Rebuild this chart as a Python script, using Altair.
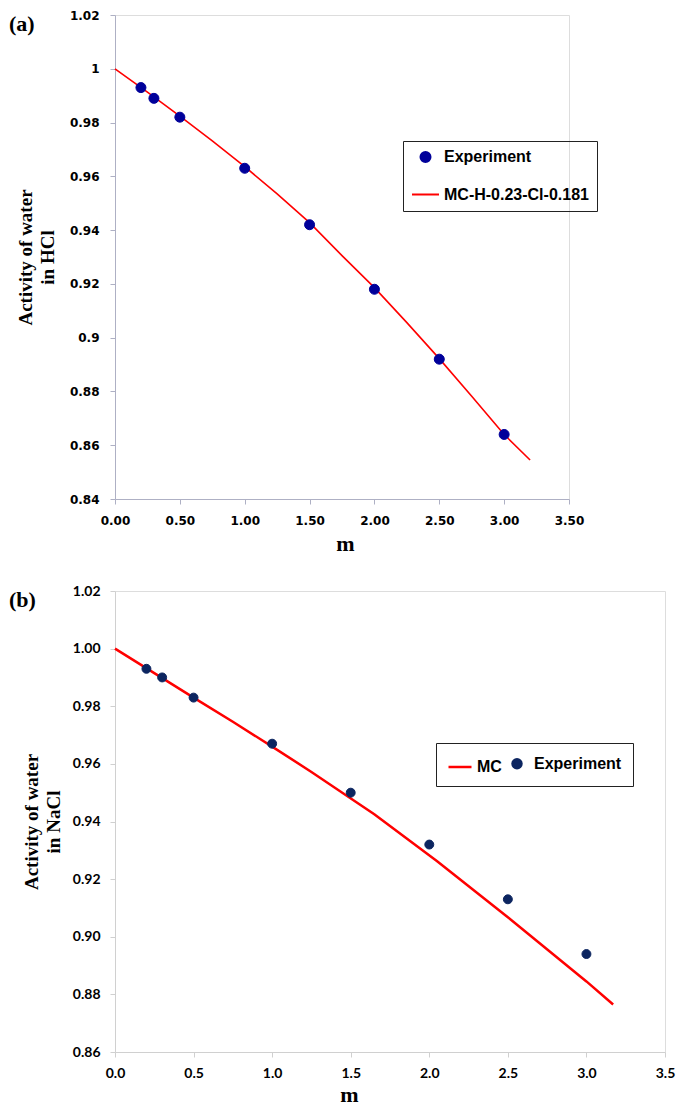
import altair as alt
import pandas as pd

# ---------- Panel (a): HCl ----------
m_exp_a = [0.2, 0.3, 0.5, 1.0, 1.5, 2.0, 2.5, 3.0]
aw_exp_a = [0.993, 0.989, 0.982, 0.963, 0.942, 0.918, 0.892, 0.864]
m_mc_a = [0.0, 0.25, 0.5, 0.75, 1.0, 1.25, 1.5, 1.75, 2.0, 2.25, 2.5, 2.75, 3.0, 3.2]
aw_mc_a = [1.0, 0.9913, 0.9824, 0.9732, 0.9636, 0.9535, 0.9428, 0.9305, 0.9186, 0.9056, 0.8922, 0.8782, 0.8640, 0.8545]
series_a = ["Experiment", "MC-H-0.23-Cl-0.181"]
xticks_a = [0.0, 0.5, 1.0, 1.5, 2.0, 2.5, 3.0, 3.5]
yticks_a = [0.84, 0.86, 0.88, 0.90, 0.92, 0.94, 0.96, 0.98, 1.00, 1.02]

# ---------- Panel (b): NaCl ----------
m_exp_b = [0.2, 0.3, 0.5, 1.0, 1.5, 2.0, 2.5, 3.0]
aw_exp_b = [0.993, 0.990, 0.983, 0.967, 0.950, 0.932, 0.913, 0.894]
m_mc_b = [0.0, 0.25, 0.5, 0.75, 1.0, 1.25, 1.65, 2.05, 2.5, 3.0, 3.17]
aw_mc_b = [1.0, 0.9915, 0.9830, 0.9746, 0.9660, 0.9572, 0.9425, 0.9262, 0.9068, 0.8845, 0.8765]
series_b = ["MC", "Experiment"]
xticks_b = [0.0, 0.5, 1.0, 1.5, 2.0, 2.5, 3.0, 3.5]
yticks_b = [0.86, 0.88, 0.90, 0.92, 0.94, 0.96, 0.98, 1.00, 1.02]

BLUE_A = "#00009a"
NAVY_B = "#0c2560"
RED = "#ff0000"

exp_a = pd.DataFrame({"m": m_exp_a, "aw": aw_exp_a, "series": "Experiment"})
mc_a = pd.DataFrame({"m": m_mc_a, "aw": aw_mc_a})
exp_b = pd.DataFrame({"m": m_exp_b, "aw": aw_exp_b, "series": "Experiment"})
mc_b = pd.DataFrame({"m": m_mc_b, "aw": aw_mc_b})


def panel(exp, mc, series, colors, sizes, xticks, yticks, xfmt, yfmt, ytitle,
          tick_font, tick_size, axis_color, label_pad_x, label_pad_y,
          title_x_x, title_y_y, ylab_title_x, width, height, legend,
          line_width, tag, tag_y):
    x = alt.X("m:Q",
              scale=alt.Scale(domain=[xticks[0], xticks[-1]], nice=False, zero=False),
              axis=alt.Axis(values=xticks, format=xfmt, title="m", grid=False,
                            labelFont=tick_font, labelFontSize=tick_size,
                            labelFontWeight="bold", labelColor="black",
                            labelPadding=label_pad_x, tickSize=5,
                            tickColor=axis_color, domainColor=axis_color,
                            titleFont="Liberation Serif", titleFontSize=22,
                            titleFontWeight="bold", titleColor="black",
                            titleX=title_x_x, titleY=title_y_y,
                            labelFlush=False))
    y = alt.Y("aw:Q",
              scale=alt.Scale(domain=[yticks[0], yticks[-1]], nice=False, zero=False),
              axis=alt.Axis(values=yticks, format=yfmt, title=ytitle, grid=False,
                            labelFont=tick_font, labelFontSize=tick_size,
                            labelFontWeight="bold", labelColor="black",
                            labelPadding=label_pad_y, tickSize=5,
                            tickColor=axis_color, domainColor=axis_color,
                            titleFont="Liberation Serif", titleFontSize=19,
                            titleFontWeight="bold", titleColor="black",
                            titleLineHeight=22, titleX=ylab_title_x,
                            labelFlush=False))
    line = alt.Chart(mc).mark_line(color=RED, strokeWidth=line_width).encode(x=x, y=y)
    dom = alt.Scale(domain=series, range=colors)
    pts = alt.Chart(exp).mark_point(filled=True, opacity=1, strokeWidth=1).encode(
        x=x, y=y,
        fill=alt.Fill("series:N", scale=dom, legend=legend),
        stroke=alt.Stroke("series:N", scale=dom, legend=legend),
        shape=alt.Shape("series:N",
                        scale=alt.Scale(domain=series,
                                        range=["circle" if s == "Experiment" else "stroke" for s in series]),
                        legend=legend),
        size=alt.Size("series:N",
                      scale=alt.Scale(type="ordinal", domain=series, range=sizes),
                      legend=legend),
    )
    lab = alt.Chart(pd.DataFrame({"t": [tag]})).mark_text(
        font="Liberation Serif", fontSize=22, fontWeight="bold", color="black",
        align="left", baseline="top").encode(
        x=alt.value(-106), y=alt.value(tag_y), text="t:N")
    return alt.layer(line, pts, lab).properties(width=width, height=height)


legend_a = alt.Legend(title=None, orient="none", legendX=288, legendY=126,
                      direction="vertical", strokeColor="#222222", padding=8,
                      labelFont="Liberation Sans", labelFontSize=16,
                      labelFontWeight="bold", labelColor="black", labelOffset=4,
                      rowPadding=14, symbolStrokeWidth=2, symbolOpacity=1)
legend_b = alt.Legend(title=None, orient="none", legendX=321, legendY=152,
                      direction="horizontal", columns=2, strokeColor="#222222",
                      padding=11, labelFont="Liberation Sans", labelFontSize=16,
                      labelFontWeight="bold", labelColor="black", labelOffset=4,
                      columnPadding=2, symbolStrokeWidth=2.5, symbolOpacity=1)

top = panel(exp_a, mc_a, series_a, [BLUE_A, RED], [100, 729], xticks_a, yticks_a,
            ".2f", ".2~f", ["Activity of water", "in HCl"],
            "DejaVu Sans", 12, "#aeb0c4", 11, 11, 230, 34, -80, 454, 484,
            legend_a, 1.6, "(a)", -1)
bottom = panel(exp_b, mc_b, series_b, [RED, NAVY_B], [529, 80], xticks_b, yticks_b,
               ".1f", ".2f", ["Activity of water", "in NaCl"],
               "Lato", 14, "#d0d0d0", 9, 10, 234, 32, -74, 550, 461,
               legend_b, 2.5, "(b)", -1)

chart = alt.vconcat(top, bottom, spacing=28).resolve_scale(
    fill="independent", stroke="independent", shape="independent", size="independent"
).resolve_legend(
    fill="independent", stroke="independent", shape="independent", size="independent"
).properties(padding=0).configure_view(stroke=None).configure(background="white")

chart.save("out.html", embed_options={"renderer": "svg", "actions": False})
